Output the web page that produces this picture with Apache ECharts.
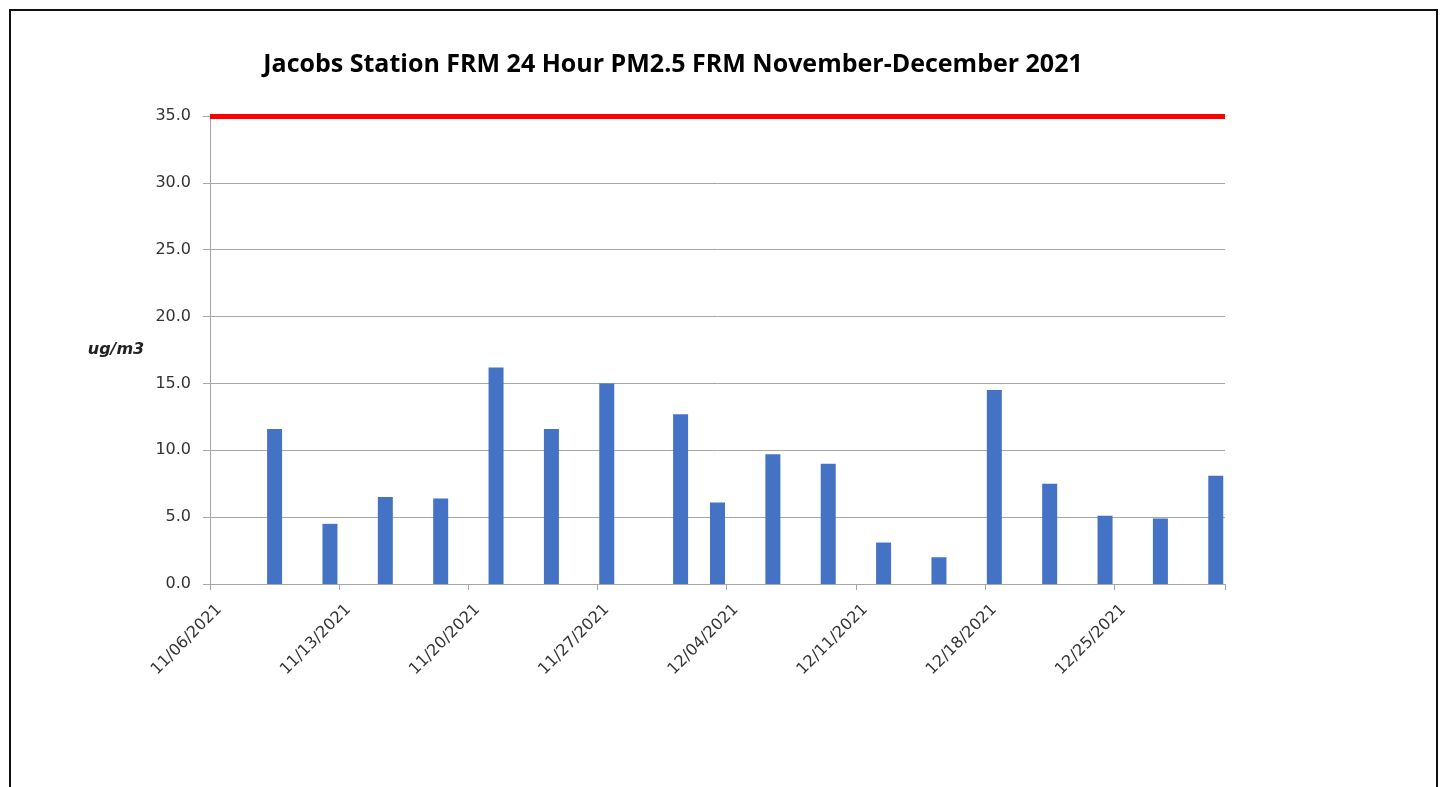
<!DOCTYPE html>
<html>
<head>
<meta charset="utf-8">
<title>Jacobs Station FRM 24 Hour PM2.5</title>
<script src="https://cdn.jsdelivr.net/npm/echarts@6/dist/echarts.min.js"></script>
<style>
html, body { margin: 0; padding: 0; background: #fff; overflow: hidden; }
#chart { width: 1444px; height: 787px; }
</style>
</head>
<body>
<div id="chart"></div>
<script>
// sample days and their 24 hour PM2.5 values (ug/m3)
const sampleDates = ['11/09/2021', '11/12/2021', '11/15/2021', '11/18/2021', '11/21/2021', '11/24/2021',
    '11/27/2021', '12/01/2021', '12/03/2021', '12/06/2021', '12/09/2021', '12/12/2021',
    '12/15/2021', '12/18/2021', '12/21/2021', '12/24/2021', '12/27/2021', '12/30/2021'];
const pm25 = [11.6, 4.5, 6.5, 6.4, 16.2, 11.6, 15.0, 12.7, 6.1, 9.7, 9.0, 3.1, 2.0, 14.5, 7.5, 5.1, 4.9, 8.1];
const standard = 35; // 24 hour standard line
const axisStart = [2021, 10, 6]; // 11/06/2021
const axisDays = 55;

function pad(n) { return n < 10 ? '0' + n : '' + n; }
function fmt(d) { return pad(d.getUTCMonth() + 1) + '/' + pad(d.getUTCDate()) + '/' + d.getUTCFullYear(); }

let days = [];
let t0 = Date.UTC(axisStart[0], axisStart[1], axisStart[2]);
for (let i = 0; i < axisDays; i++) {
    days.push(fmt(new Date(t0 + i * 86400000)));
}
let barData = days.map(function (d) {
    let k = sampleDates.indexOf(d);
    return k < 0 ? '-' : pm25[k];
});

let chart = echarts.init(document.getElementById('chart'));
let gridColor = '#a6a6a6';
let labelFont = { fontFamily: 'DejaVu Sans', fontSize: 16, color: '#333' };

let options = {
    backgroundColor: '#fff',
    animation: false,
    graphic: [
        {
            type: 'rect',
            shape: { x: 10, y: 10, width: 1427, height: 800 },
            style: { fill: 'none', stroke: '#111', lineWidth: 2 }
        },
        {
            type: 'text',
            x: 673, y: 65,
            style: {
                text: 'Jacobs Station FRM 24 Hour PM2.5 FRM November-December 2021',
                fontFamily: 'Open Sans', fontWeight: 'bold', fontSize: 25,
                fill: '#000', align: 'center', verticalAlign: 'middle'
            }
        }
    ],
    grid: { left: 210, top: 116, width: 1015, height: 468, containLabel: false, outerBoundsMode: 'none' },
    xAxis: {
        type: 'category',
        data: days,
        boundaryGap: true,
        axisLine: { lineStyle: { color: gridColor, width: 1 } },
        axisTick: { show: true, interval: 6, length: 6, lineStyle: { color: gridColor } },
        axisLabel: Object.assign({ interval: 6, rotate: 45, margin: 23 }, labelFont),
        splitLine: { show: false }
    },
    yAxis: {
        type: 'value',
        min: 0, max: 35, interval: 5,
        name: 'ug/m3',
        nameLocation: 'middle',
        nameRotate: 0,
        nameGap: 94,
        nameTextStyle: {
            fontFamily: 'DejaVu Sans', fontStyle: 'italic', fontWeight: 'bold', fontSize: 16,
            color: '#222', align: 'center', verticalAlign: 'middle'
        },
        axisLine: { show: true, lineStyle: { color: gridColor } },
        axisTick: { show: true, length: 7, lineStyle: { color: gridColor } },
        axisLabel: Object.assign({ margin: 19, formatter: function (v) { return v.toFixed(1); } }, labelFont),
        splitLine: { lineStyle: { color: gridColor } }
    },
    series: [{
        name: 'PM2.5',
        type: 'bar',
        data: barData,
        barWidth: 15,
        itemStyle: { color: '#4472C4' },
        markLine: {
            silent: true,
            symbol: 'none',
            label: { show: false },
            lineStyle: { color: '#ff0000', width: 5, type: 'solid' },
            data: [{ yAxis: standard }]
        }
    }]
};

chart.setOption(options);
</script>
</body>
</html>
